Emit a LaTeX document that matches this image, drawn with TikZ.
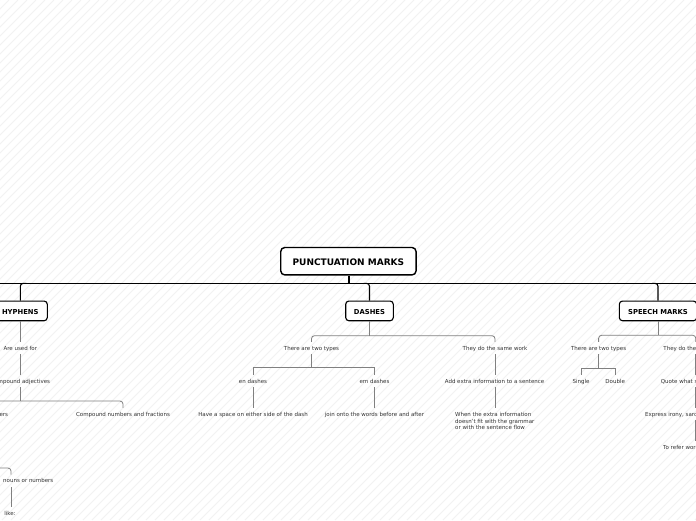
\documentclass[tikz,border=0pt]{standalone}
\usepackage{fontspec}
\setmainfont{DejaVu Sans}
\usetikzlibrary{calc}
\begin{document}
\begin{tikzpicture}[x=1pt,y=-1pt,
  rootbox/.style={draw=black, line width=1.4pt, rounded corners=4pt, fill=white,
    font=\fontsize{9}{10}\selectfont\bfseries, text=black, inner sep=0pt,
    text height=8.6pt, text depth=0pt,
    minimum width=135.3pt, minimum height=27.4pt},
  box/.style={draw=black, line width=1.1pt, rounded corners=3.2pt, fill=white,
    font=\fontsize{6.8}{8}\selectfont\bfseries, text=black, inner sep=0pt,
    text height=6.8pt, text depth=0pt, minimum height=19.7pt},
  leaf/.style={font=\fontsize{5.5}{6.5}\selectfont, text=black!80, inner xsep=1pt,
    inner ysep=3.5pt, text height=5pt, text depth=0pt},
  para/.style={font=\fontsize{5.5}{6.5}\selectfont, text=black!80, inner xsep=0pt,
    inner ysep=4.8pt, align=left},
  main/.style={draw=black, line width=1.1pt},
  sub/.style={draw=black!50, line width=0.8pt},
  stripe/.style={draw=black!5, line width=0.9pt}]

\useasboundingbox (0,0) rectangle (696,520);
\clip (0,0) rectangle (696,520);
\fill[white] (0,0) rectangle (696,520);
\foreach \i in {-520,-511,...,700} \draw[stripe] (\i,520) -- ({\i+520},0);

% main nodes
\node[rootbox] (root) at (348.4,261.2) {PUNCTUATION MARKS};
\node[box, minimum width=54pt] (hyphens) at (20.3,310.9) {HYPHENS};
\node[box, minimum width=47.6pt] (dashes) at (369.5,310.9) {DASHES};
\node[box, minimum width=77.4pt] (speech) at (658,310.9) {SPEECH MARKS};

% hyphens subtree
\node[leaf] (used) at (20.3,348) {Are used for};
\node[leaf] (adj) at (20.3,381) {Compound adjectives};
\node[leaf, anchor=east] (ers) at (9.3,414) {ers};
\node[leaf] (frac) at (123,414) {Compound numbers and fractions};
\node[leaf, anchor=west] (nouns) at (2,480) {nouns or numbers};
\node[leaf] (like) at (10,513) {like:};

% dashes subtree
\node[leaf] (types) at (311.5,348) {There are two types};
\node[leaf] (same) at (495,348) {They do the same work};
\node[leaf] (en) at (253,381) {en dashes};
\node[leaf] (em) at (374.5,381) {em dashes};
\node[leaf] (add) at (494.6,381) {Add extra information to a sentence};
\node[leaf] (space) at (253,414) {Have a space on either side of the dash};
\node[leaf] (join) at (374.5,414) {join onto the words before and after};
\node[para, anchor=north] (when) at (494.8,407.7) {When the extra information\\doesn't fit with the grammar\\or with the sentence flow};

% speech marks subtree
\node[leaf] (types2) at (598.6,348) {There are two types};
\node[leaf] (work2) at (695.8,348) {They do the same work};
\node[leaf] (single) at (581,381) {Single};
\node[leaf] (double) at (615.2,381) {Double};
\node[leaf, anchor=west] (quote) at (659.7,381) {Quote what s};
\node[leaf, anchor=west] (irony) at (644,414) {Express irony, sarc};
\node[leaf, anchor=west] (refer) at (662,447) {To refer wor};

% main connectors
\coordinate (L) at (-5,283.3);
\coordinate (R) at (701,283.3);
\draw[main] (L) -- (R);
\draw[main] (root.south -| 349,0) -- (L -| 349,0);
\draw[main, rounded corners=3] (hyphens.north |- L) ++(6,0) -| (hyphens.north);
\draw[main, rounded corners=3] (dashes.north |- L) ++(-6,0) -| (dashes.north);
\draw[main, rounded corners=3] (speech.north |- L) ++(-6,0) -| (speech.north);

% hyphens connectors
\draw[sub] (hyphens) -- (used);
\draw[sub] (used) -- (adj);
\coordinate (hbar) at (0,401);
\coordinate (hbarL) at (-10,401);
\draw[sub] (adj) -- (adj.south |- hbar);
\draw[sub, rounded corners=3] (hbarL) -| (frac.north);
\coordinate (nbarL) at (-10,468);
\coordinate (ncolT) at (11,474.5);
\coordinate (ncolB) at (11,487);
\draw[sub, rounded corners=3] (nbarL) -| (ncolT);
\draw[sub] (ncolB) -- (like.north -| ncolB);

% dashes connectors
\coordinate (dbar) at (0,335.7);
\draw[sub] (dashes) -- (dashes.south |- dbar);
\draw[sub, rounded corners=3] (types.north) |- (dbar -| same.north) -- (same.north);
\coordinate (ebar) at (0,367.5);
\draw[sub] (types) -- (types.south |- ebar);
\draw[sub] (en.north) |- (ebar -| em.north) -- (em.north);
\draw[sub] (same.south) -- (same.south |- add.north);
\draw[sub] (add.south -| same.south) -- (when.north -| same.south);
\draw[sub] (en) -- (space);
\draw[sub] (em) -- (join);

% speech marks connectors
\coordinate (sbar) at (0,335.3);
\draw[sub] (speech) -- (speech.south |- sbar);
\draw[sub, rounded corners=3] (types2.north) |- (sbar -| work2.north) -- (work2.north);
\coordinate (tbar) at (0,368.2);
\draw[sub] (types2) -- (types2.south |- tbar);
\draw[sub] (single.north) |- (tbar -| double.north) -- (double.north);
\draw[sub] (work2.south) -- (work2.south |- quote.north);
\draw[sub] (quote.south -| work2.south) -- (irony.north -| work2.south);
\draw[sub] (irony.south -| work2.south) -- (refer.north -| work2.south);
\end{tikzpicture}
\end{document}
